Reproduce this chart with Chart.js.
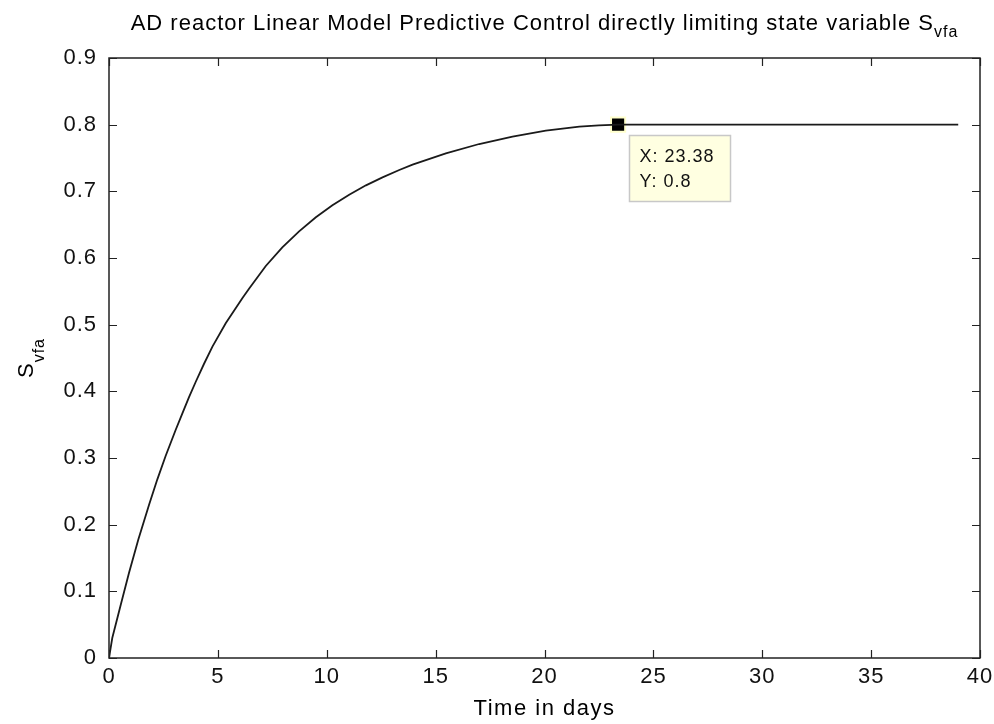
<!DOCTYPE html>
<html>
<head>
<meta charset="utf-8">
<script src="https://cdn.jsdelivr.net/npm/chart.js@4"></script>
<style>
  html, body { margin: 0; padding: 0; background: #fff; }
  #wrap { width: 994px; height: 724px; }
</style>
</head>
<body>
<div id="wrap"><canvas id="svfa_chart" width="994" height="724"></canvas></div>
<script>
// values
const timeDays = [0, 0.15, 0.54, 0.92, 1.35, 1.84, 2.22, 2.6, 3.06, 3.37, 3.67, 3.98, 4.36, 4.75, 5.36, 6.13,
    6.43, 7.2, 7.96, 8.73, 9.5, 10.26, 11.03, 11.8, 12.56, 13.33, 13.94, 15.47, 17.0, 18.53, 20.06, 21.6,
    22.5, 23.38, 39];
const svfa = [0, 0.03, 0.08, 0.128, 0.178, 0.23, 0.268, 0.303, 0.342, 0.367, 0.391, 0.414, 0.441, 0.467, 0.502, 0.540,
    0.554, 0.588, 0.616, 0.640, 0.661, 0.679, 0.695, 0.709, 0.721, 0.732, 0.740, 0.757, 0.771, 0.782, 0.791, 0.797,
    0.799, 0.80, 0.80];
const tipX = 23.38;
const tipY = 0.8;
const xTicks = [0, 5, 10, 15, 20, 25, 30, 35, 40];
const yTicks = [0, 0.1, 0.2, 0.3, 0.4, 0.5, 0.6, 0.7, 0.8, 0.9];

const FONT = '"Liberation Sans", Arial, sans-serif';

// draws box, inward ticks, titles with subscripts and the data tip
const matlabAxes = {
    id: 'matlabAxes',
    beforeUpdate(chart) { chart.ctx.letterSpacing = '1px'; },
    beforeDraw(chart) { chart.ctx.letterSpacing = '1px'; },
    afterDatasetsDraw(chart) {
        const ctx = chart.ctx;
        const a = chart.chartArea;
        const xs = chart.scales.x, ys = chart.scales.y;
        ctx.save();
        ctx.letterSpacing = '1px';
        ctx.strokeStyle = '#222';
        ctx.lineWidth = 1.5;
        ctx.strokeRect(a.left, a.top, a.right - a.left, a.bottom - a.top);
        ctx.beginPath();
        xTicks.forEach(v => {
            const px = Math.round(xs.getPixelForValue(v)) + 0.5;
            ctx.moveTo(px, a.bottom); ctx.lineTo(px, a.bottom - 8);
            ctx.moveTo(px, a.top); ctx.lineTo(px, a.top + 8);
        });
        yTicks.forEach(v => {
            const py = Math.round(ys.getPixelForValue(v)) + 0.5;
            ctx.moveTo(a.left, py); ctx.lineTo(a.left + 8, py);
            ctx.moveTo(a.right, py); ctx.lineTo(a.right - 8, py);
        });
        ctx.lineWidth = 1.2;
        ctx.stroke();

        // title with subscript
        ctx.fillStyle = '#000';
        ctx.textBaseline = 'alphabetic';
        const t1 = 'AD reactor Linear Model Predictive Control directly limiting state variable S';
        const sub = 'vfa';
        ctx.font = '22px ' + FONT;
        const w1 = ctx.measureText(t1).width;
        ctx.font = '16px ' + FONT;
        const w2 = ctx.measureText(sub).width;
        const cx = (a.left + a.right) / 2;
        let sx = cx - (w1 + w2) / 2;
        ctx.font = '22px ' + FONT;
        ctx.textAlign = 'left';
        ctx.fillText(t1, sx, 30);
        ctx.font = '16px ' + FONT;
        ctx.fillText(sub, sx + w1, 37);

        // x axis title
        ctx.font = '22px ' + FONT;
        ctx.textAlign = 'center';
        ctx.letterSpacing = '1.5px';
        ctx.fillText('Time in days', cx, 715);
        ctx.letterSpacing = '1px';

        // y axis title, rotated, with subscript
        ctx.save();
        ctx.translate(33, (a.top + a.bottom) / 2);
        ctx.rotate(-Math.PI / 2);
        ctx.font = '22px ' + FONT;
        const ws = ctx.measureText('S').width;
        ctx.font = '16px ' + FONT;
        const wv = ctx.measureText(sub).width;
        ctx.textAlign = 'left';
        ctx.font = '22px ' + FONT;
        ctx.fillText('S', -(ws + wv) / 2, 0);
        ctx.font = '16px ' + FONT;
        ctx.fillText(sub, -(ws + wv) / 2 + ws, 11);
        ctx.restore();

        // data tip box
        const mx = xs.getPixelForValue(tipX), my = ys.getPixelForValue(tipY);
        const bx = Math.round(mx + 11) + 0.5, by = Math.round(my + 10) + 0.5;
        ctx.fillStyle = '#ffffe1';
        ctx.fillRect(bx, by, 101, 66);
        ctx.strokeStyle = '#c8c8c8';
        ctx.lineWidth = 1.5;
        ctx.strokeRect(bx, by, 101, 66);
        ctx.fillStyle = '#111';
        ctx.font = '18px ' + FONT;
        ctx.textAlign = 'left';
        ctx.fillText('X: ' + tipX, bx + 10, by + 26);
        ctx.fillText('Y: ' + tipY, bx + 10, by + 51);
        ctx.restore();
    }
};

function initializeChart() {
    const ctx = document.getElementById('svfa_chart').getContext('2d');
    new Chart(ctx, {
        type: 'line',
        data: {
            datasets: [
                {
                    data: timeDays.map((t, i) => ({ x: t, y: svfa[i] })),
                    borderColor: '#1a1a1a',
                    borderWidth: 1.8,
                    pointRadius: 0,
                    tension: 0,
                    fill: false
                },
                {
                    data: [{ x: tipX, y: tipY }],
                    showLine: false,
                    pointStyle: 'rect',
                    pointRadius: 10,
                    backgroundColor: '#000',
                    borderColor: '#ffffcc',
                    borderWidth: 2
                }
            ]
        },
        options: {
            responsive: false,
            animation: false,
            layout: { padding: { left: 0, top: 58, right: 14, bottom: 0 } },
            plugins: {
                legend: { display: false },
                tooltip: { enabled: false },
                title: { display: false }
            },
            scales: {
                x: {
                    type: 'linear',
                    min: 0, max: 40,
                    afterBuildTicks: s => { s.ticks = xTicks.map(v => ({ value: v })); },
                    afterFit: s => { s.height = 66; s.paddingLeft = 0; s.paddingRight = 0; },
                    grid: { display: false, drawTicks: false },
                    border: { display: false },
                    ticks: {
                        padding: 6,
                        color: '#111',
                        font: { family: FONT, size: 22 },
                        maxRotation: 0,
                        autoSkip: false,
                        callback: v => String(v)
                    }
                },
                y: {
                    type: 'linear',
                    min: 0, max: 0.9,
                    afterBuildTicks: s => { s.ticks = yTicks.map(v => ({ value: v })); },
                    afterFit: s => { s.width = 109; s.paddingTop = 0; s.paddingBottom = 0; },
                    grid: { display: false, drawTicks: false },
                    border: { display: false },
                    ticks: {
                        padding: 12,
                        color: '#111',
                        font: { family: FONT, size: 22 },
                        autoSkip: false,
                        callback: v => v === 0 ? '0' : v.toFixed(1)
                    }
                }
            }
        },
        plugins: [matlabAxes]
    });
}

document.addEventListener('DOMContentLoaded', initializeChart);
</script>
</body>
</html>
